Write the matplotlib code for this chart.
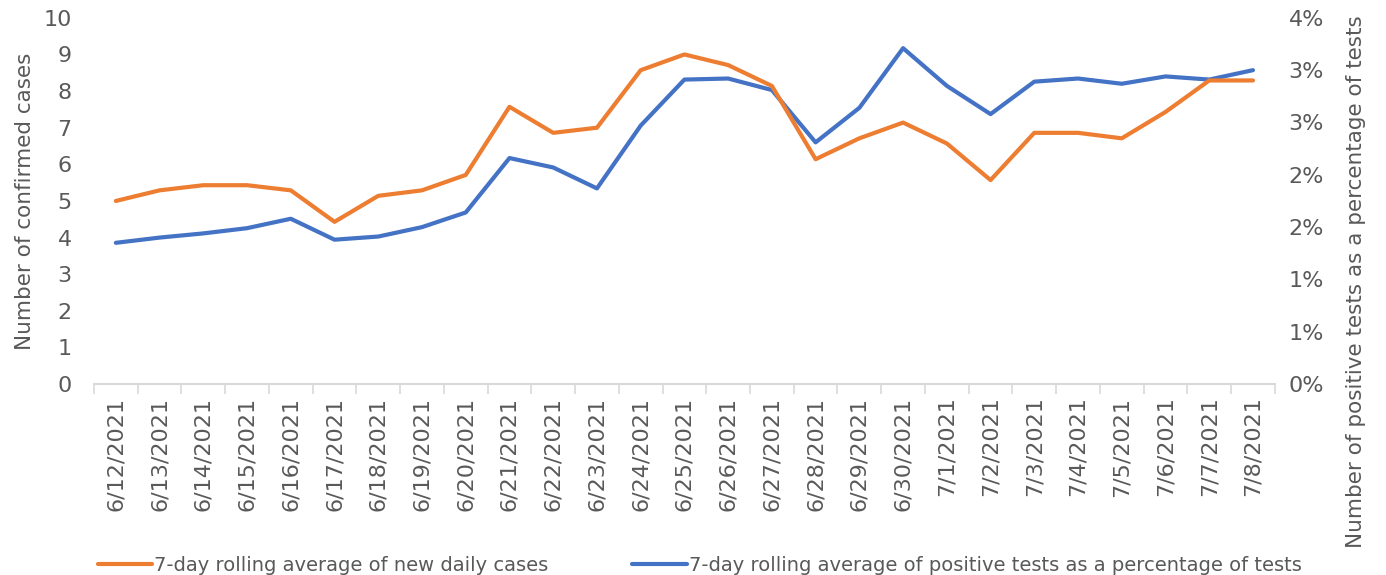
import math
import numpy as np
import matplotlib
matplotlib.use("Agg")
import matplotlib.pyplot as plt
from matplotlib.ticker import FuncFormatter

# Dados
datas = ["6/12/2021", "6/13/2021", "6/14/2021", "6/15/2021", "6/16/2021", "6/17/2021",
         "6/18/2021", "6/19/2021", "6/20/2021", "6/21/2021", "6/22/2021", "6/23/2021",
         "6/24/2021", "6/25/2021", "6/26/2021", "6/27/2021", "6/28/2021", "6/29/2021",
         "6/30/2021", "7/1/2021", "7/2/2021", "7/3/2021", "7/4/2021", "7/5/2021",
         "7/6/2021", "7/7/2021", "7/8/2021"]

casos_media7 = [5.00, 5.29, 5.43, 5.43, 5.29, 4.43, 5.14, 5.29, 5.71, 7.57, 6.86, 7.00,
                8.57, 9.00, 8.71, 8.14, 6.14, 6.71, 7.14, 6.57, 5.57, 6.86, 6.86, 6.71,
                7.43, 8.29, 8.29]

positivos_pct = [1.35, 1.40, 1.44, 1.49, 1.58, 1.38, 1.41, 1.50, 1.64, 2.16, 2.07, 1.87,
                 2.47, 2.91, 2.92, 2.81, 2.31, 2.64, 3.21, 2.85, 2.58, 2.89, 2.92, 2.87,
                 2.94, 2.91, 3.00]

laranja = "#ED7D31"
azul = "#4472C4"
cinza = "#595959"
cinza_eixo = "#D9D9D9"

plt.rcParams["font.family"] = "DejaVu Sans"

fig = plt.figure(figsize=(13.86, 5.75), dpi=100)
ax = fig.add_axes([0.0678, 0.332, 0.852, 0.637])
ax2 = ax.twinx()

x = np.arange(len(datas))
l1, = ax.plot(x, casos_media7, color=laranja, linewidth=3.0, solid_capstyle="round",
              label="7-day rolling average of new daily cases")
l2, = ax2.plot(x, np.array(positivos_pct) / 100, color=azul, linewidth=3.0, solid_capstyle="round",
               label="7-day rolling average of positive tests as a percentage of tests")
ax.set_zorder(ax2.get_zorder() + 1)
ax.patch.set_visible(False)

ax.set_xlim(-0.5, len(datas) - 0.5)
ax.set_ylim(0, 10)
ax.set_yticks(range(0, 11))
ax2.set_ylim(0, 0.035)
ax2.set_yticks(np.arange(8) * 0.005)
ax2.yaxis.set_major_formatter(FuncFormatter(lambda v, p: f"{math.floor(v * 100 + 0.5 + 1e-9)}%"))

# eixo x: marcas nas fronteiras das categorias, rótulos no centro
ax.set_xticks(np.arange(len(datas) + 1) - 0.5)
ax.set_xticklabels([])
ax.set_xticks(x, minor=True)
ax.set_xticklabels(datas, minor=True, rotation=90, fontsize=16, color=cinza)
ax.tick_params(axis="x", which="major", length=7, color=cinza_eixo, width=1.2, direction="out")
ax.tick_params(axis="x", which="minor", length=0, pad=9)

for a in (ax, ax2):
    for s in a.spines.values():
        s.set_visible(False)
    a.tick_params(axis="y", length=0, labelsize=16, labelcolor=cinza)
ax.spines["bottom"].set_visible(True)
ax.spines["bottom"].set_color(cinza_eixo)
ax.spines["bottom"].set_linewidth(1.5)
ax.tick_params(axis="y", pad=16)
ax2.tick_params(axis="y", pad=10)

ax.set_ylabel("Number of confirmed cases", fontsize=15.5, color=cinza, labelpad=6)
fig.text(0.978, 0.51, "Number of positive tests as a percentage of tests", rotation=90,
         ha="center", va="center", fontsize=15.5, color=cinza)

fig.legend(handles=[l1, l2], loc="lower left", bbox_to_anchor=(0.058, -0.03), ncol=2,
           frameon=False, fontsize=14, labelcolor=cinza, handlelength=2.8,
           handletextpad=0.1, columnspacing=4.3)

plt.savefig("out.png", dpi=100)
